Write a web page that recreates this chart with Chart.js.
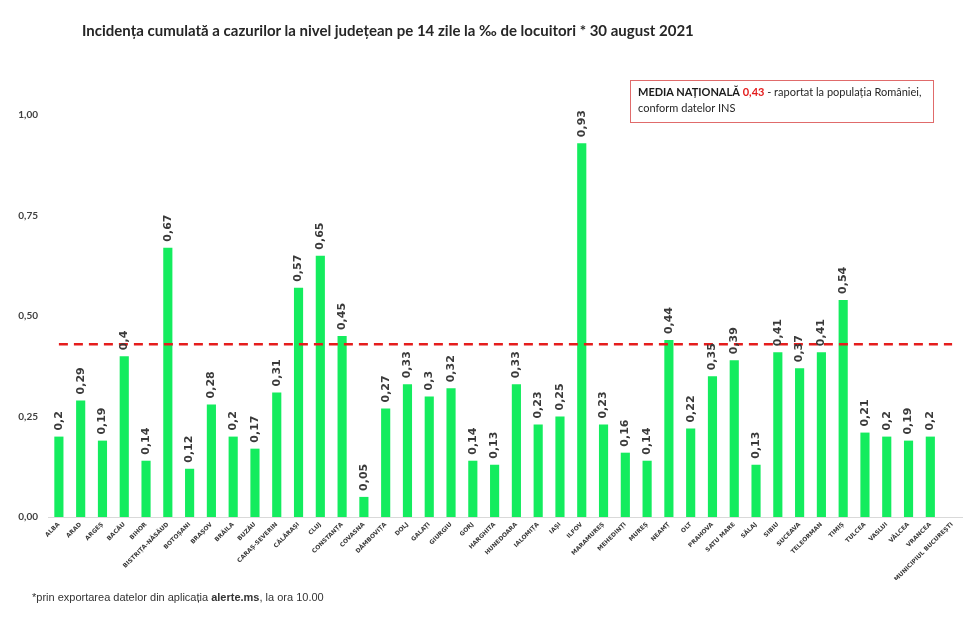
<!DOCTYPE html>
<html lang="ro">
<head>
<meta charset="utf-8">
<title>Incidența cumulată pe județe</title>
<script src="https://cdn.jsdelivr.net/npm/chart.js@4.4.1/dist/chart.umd.min.js"></script>
<style>
    html, body { margin: 0; padding: 0; background: #fff; }
    #wrap { position: relative; width: 963px; height: 640px; overflow: hidden; }
    #chart { position: absolute; left: 0; top: 0; }
    .chart-title {
        position: absolute; left: 82px; top: 21px;
        font: bold 15px Lato, "Open Sans", sans-serif; color: #262626;
        white-space: nowrap;
    }
    .media-box {
        position: absolute; left: 630px; top: 80px; width: 295px; height: 38px;
        border: 1.5px solid #e06b6b; padding: 3px 0 0 7px;
        font: 11px Lato, "Open Sans", sans-serif; color: #262626; line-height: 16px;
        white-space: nowrap;
    }
    .media-box b { color: #1a1a1a; }
    .media-box .red { color: #e31b1b; font-weight: bold; }
    .footnote {
        position: absolute; left: 32px; top: 591px;
        font: 11px "Liberation Sans", Arial, sans-serif; color: #333;
        white-space: nowrap;
    }
</style>
</head>
<body>
<div id="wrap">
    <canvas id="chart" width="963" height="640"></canvas>
    <div class="chart-title">Incidența cumulată a cazurilor la nivel județean pe 14 zile la ‰ de locuitori * 30 august 2021</div>
    <div class="media-box"><b>MEDIA NAȚIONALĂ</b> <span class="red">0,43</span> - raportat la populația României,<br>conform datelor INS</div>
    <div class="footnote">*prin exportarea datelor din aplicația <b>alerte.ms</b>, la ora 10.00</div>
</div>
<script>
    // judete, in ordinea din grafic
    const counties = [
        'ALBA', 'ARAD', 'ARGEȘ', 'BACĂU', 'BIHOR', 'BISTRIȚA-NĂSĂUD', 'BOTOȘANI', 'BRAȘOV',
        'BRĂILA', 'BUZĂU', 'CARAȘ-SEVERIN', 'CĂLĂRAȘI', 'CLUJ', 'CONSTANȚA', 'COVASNA',
        'DÂMBOVIȚA', 'DOLJ', 'GALAȚI', 'GIURGIU', 'GORJ', 'HARGHITA', 'HUNEDOARA', 'IALOMIȚA',
        'IAȘI', 'ILFOV', 'MARAMUREȘ', 'MEHEDINȚI', 'MUREȘ', 'NEAMȚ', 'OLT', 'PRAHOVA',
        'SATU MARE', 'SĂLAJ', 'SIBIU', 'SUCEAVA', 'TELEORMAN', 'TIMIȘ', 'TULCEA', 'VASLUI',
        'VÂLCEA', 'VRANCEA', 'MUNICIPIUL BUCUREȘTI'
    ];

    // incidenta la mia de locuitori (Bucuresti nu are bara in grafic)
    const incidence = [
        0.2, 0.29, 0.19, 0.4, 0.14, 0.67, 0.12, 0.28, 0.2, 0.17, 0.31, 0.57, 0.65, 0.45,
        0.05, 0.27, 0.33, 0.3, 0.32, 0.14, 0.13, 0.33, 0.23, 0.25, 0.93, 0.23, 0.16, 0.14,
        0.44, 0.22, 0.35, 0.39, 0.13, 0.41, 0.37, 0.41, 0.54, 0.21, 0.2, 0.19, 0.2
    ];

    const nationalAverage = 0.43;
    const yTicks = [0, 0.25, 0.5, 0.75, 1];

    function formatComma(value, digits) {
        return digits == null ? String(value).replace('.', ',') : value.toFixed(digits).replace('.', ',');
    }

    const valueLabels = {
        id: 'valueLabels',
        afterDatasetsDraw(chart) {
            const meta = chart.getDatasetMeta(1);
            const ctx = chart.ctx;
            ctx.save();
            ctx.font = 'bold 11px "DejaVu Sans", sans-serif';
            ctx.fillStyle = '#3a3a3a';
            ctx.textAlign = 'left';
            ctx.textBaseline = 'middle';
            meta.data.forEach(function(bar, i) {
                const value = incidence[i];
                if (value == null) {
                    return;
                }
                ctx.save();
                ctx.translate(bar.x, bar.y - 6);
                ctx.rotate(-Math.PI / 2);
                ctx.fillText(formatComma(value), 0, 0);
                ctx.restore();
            });
            ctx.restore();
        }
    };

    new Chart(document.getElementById('chart'), {
        data: {
            labels: counties,
            datasets: [
                {
                    type: 'line',
                    label: 'Media națională',
                    data: counties.map(function() { return nationalAverage; }),
                    borderColor: '#e51d1d',
                    borderWidth: 2.5,
                    borderDash: [9, 6],
                    pointRadius: 0,
                    fill: false,
                    order: 1
                },
                {
                    type: 'bar',
                    label: 'Incidența',
                    data: incidence,
                    backgroundColor: '#14ec5e',
                    categoryPercentage: 1,
                    barPercentage: 0.42,
                    order: 2
                }
            ]
        },
        options: {
            responsive: false,
            animation: false,
            layout: { padding: { top: 115, left: 0, right: 0, bottom: 60 } },
            plugins: {
                legend: { display: false },
                tooltip: { enabled: false }
            },
            scales: {
                x: {
                    grid: { display: false, drawTicks: false },
                    border: { color: '#d9d9d9', width: 1 },
                    ticks: {
                        color: '#3a3a3a',
                        font: { family: '"DejaVu Sans", sans-serif', size: 6, weight: 'bold' },
                        minRotation: 45,
                        maxRotation: 45,
                        autoSkip: false,
                        padding: 4
                    },
                    afterFit: function(scale) {
                        scale.height = 63;
                        scale.paddingLeft = 0;
                        scale.paddingRight = 0;
                    }
                },
                y: {
                    min: 0,
                    max: 1,
                    grid: { display: false, drawTicks: false },
                    border: { display: false },
                    afterBuildTicks: function(scale) {
                        scale.ticks = yTicks.map(function(v) { return { value: v }; });
                    },
                    ticks: {
                        color: '#404040',
                        font: { family: 'Lato, sans-serif', size: 10, weight: 'bold' },
                        padding: 10,
                        callback: function(value) { return formatComma(value, 2); }
                    },
                    afterFit: function(scale) {
                        scale.width = 48;
                    }
                }
            }
        },
        plugins: [valueLabels]
    });
</script>
</body>
</html>
